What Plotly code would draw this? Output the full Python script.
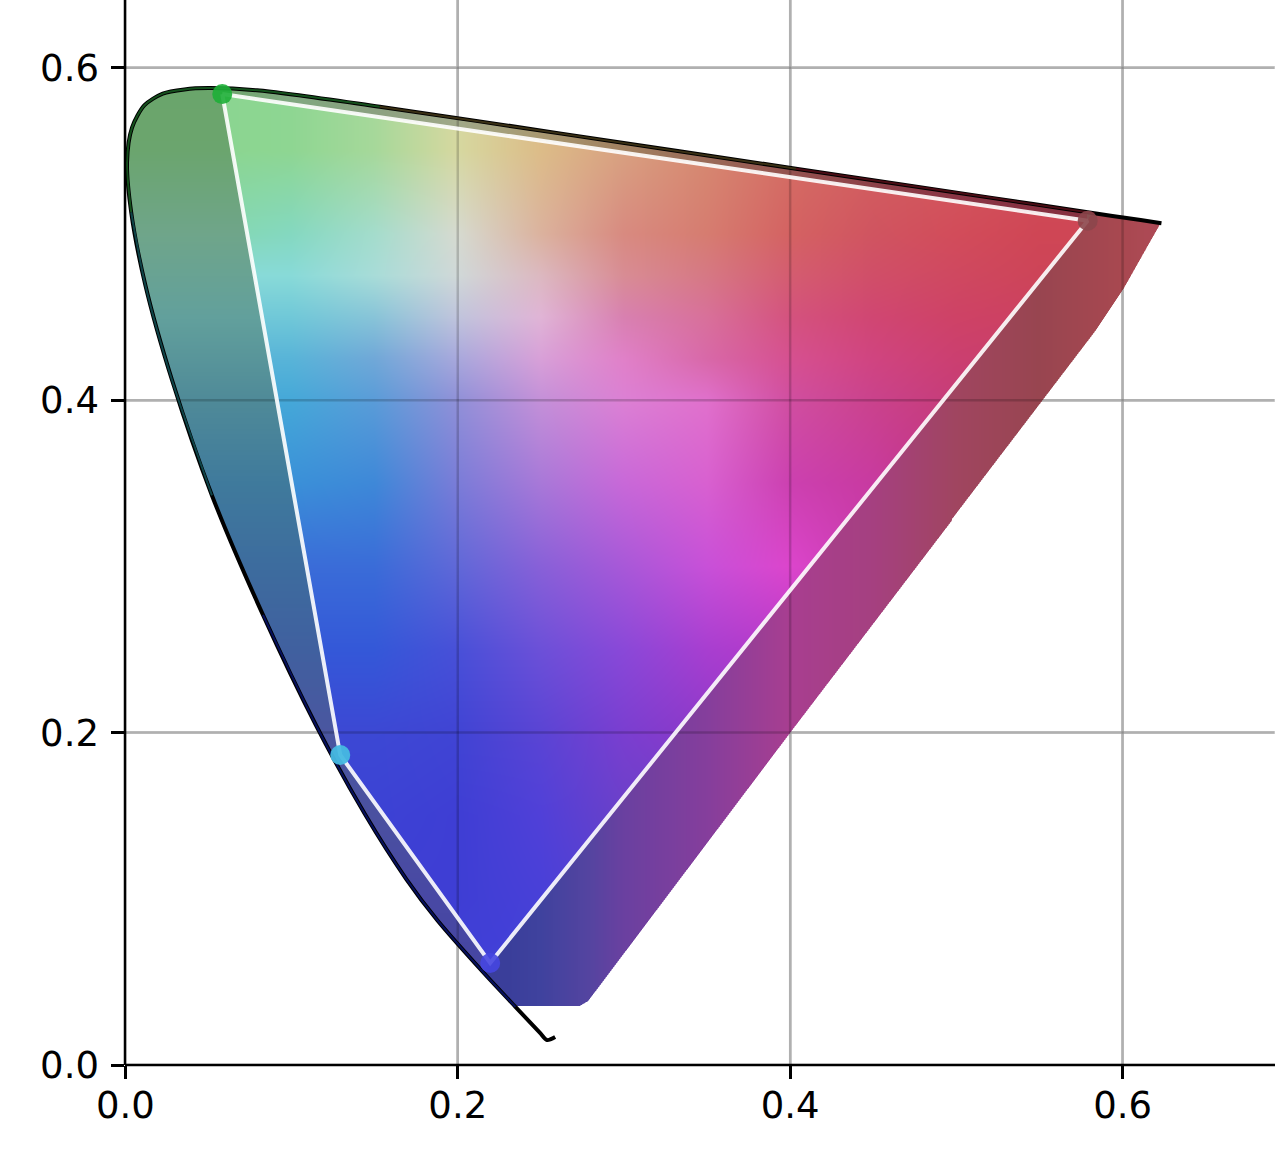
import numpy as np
import plotly.graph_objects as go

# spectral locus, read along the curve from the hook at the bottom up and round to the red end
locus_u = [0.2586, 0.2537, 0.2495, 0.2347, 0.2161, 0.1877, 0.1690, 0.1441, 0.1147, 0.0828, 0.0521, 0.0282,
           0.0119, 0.0035, 0.0010, 0.0040, 0.0115, 0.0225, 0.0355, 0.0500, 0.0792, 0.1531, 0.2623, 0.4035,
           0.5203, 0.5830, 0.6109, 0.6234]
locus_v = [0.0168, 0.0150, 0.0193, 0.0350, 0.0549, 0.0871, 0.1119, 0.1510, 0.2044, 0.2708, 0.3427, 0.4117,
           0.4698, 0.5131, 0.5432, 0.5640, 0.5775, 0.5845, 0.5870, 0.5878, 0.5865, 0.5766, 0.5604, 0.5393,
           0.5219, 0.5125, 0.5084, 0.5065]
# tint laid along the black locus where the colours show through it (start index, end index, colour)
locus_tints = [(3, 10, "#06105e"), (10, 14, "#0e4448"), (13, 22, "#14501c"), (21, 24, "#3a3014"), (23, 26, "#4a0c14")]

# lower right edge of the coloured area
edge_u = [0.6224, 0.6176, 0.6013, 0.5845, 0.3999, 0.2785, 0.2735, 0.2357]
edge_v = [0.5048, 0.4964, 0.4675, 0.4422, 0.1998, 0.0385, 0.0355, 0.0355]

# primaries: green, red, blue, cyan
prim_u = [0.0583, 0.5790, 0.2195, 0.1293]
prim_v = [0.5842, 0.5080, 0.0614, 0.1865]
prim_colors = ["rgba(30,175,55,0.9)", "rgba(140,70,75,0.9)", "rgba(70,70,225,0.9)", "rgba(70,185,225,0.95)"]

ticks_x = [0.0, 0.2, 0.4, 0.6]
ticks_y = [0.0, 0.2, 0.4, 0.6]
x_max = 0.6915
y_max = 0.6408

# colours inside the triangle
inner_u = [0.05, 0.10, 0.15, 0.20, 0.25, 0.30, 0.35, 0.40, 0.45, 0.50, 0.55, 0.60]
inner_v = [0.60, 0.55, 0.50, 0.475, 0.45, 0.425, 0.40, 0.35, 0.30, 0.25, 0.20, 0.15, 0.10, 0.05]
inner_hex = [
    "8ad590 8ed692 a6d89a d6d8a0 dcbc88 d8a080 d68870 d46e64 d2605e d25a5c d05058 d05058",
    "8ad590 8ed692 a6d89a d6d8a0 dcbc88 d8a080 d68870 d46e64 d2605e d25a5c d05058 d05058",
    "84d8b0 84d8c0 a4dccc d6dad0 dbb29e d88a80 d67c70 d46262 d05460 d24c5a cf4655 cf4655",
    "88dad8 88dad8 a8dcd8 d0d8d8 dcb8c0 d88c94 d67884 d45c70 d04e68 cf4860 cd4458 cd4458",
    "70c8d8 70c8d8 88c4d8 c0c4dc e0b4d6 d880b0 d8709a d4527e d04672 ce4266 cc4060 cc4060",
    "58b4d8 58b4d8 70a8d8 a8a8dc d8a0d8 e080c8 d868a8 d65090 d04480 cb3f70 c83d68 c83d68",
    "45a8d8 45a8d8 5a9cd8 9090d8 c490d8 dc80d4 e070cc d04ea0 ca428c c63c78 c43a70 c43a70",
    "3a90d8 3a90d8 3e88d8 7a7cd8 a878d8 c868d8 d860d0 cc40b0 c83aa0 c03080 c03080 c03080",
    "3a6cd8 3a6cd8 3a6cd8 6068d8 8860d8 a858d8 c850d8 dc45cc c83ab0 c03090 c03090 c03090",
    "3458d8 3458d8 3458d8 4850d8 6c50d8 8a48d8 a83ed0 b838c8 b838c8 b838c8 b838c8 b838c8",
    "3c48d4 3c48d4 3c48d4 4044d4 5a44d4 7a3ed0 8e38c8 9a38c8 9a38c8 9a38c8 9a38c8 9a38c8",
    "3c42d4 3c42d4 3c42d4 3e3ed4 5040d8 6a40c8 6a40c8 6a40c8 6a40c8 6a40c8 6a40c8 6a40c8",
    "3e3ed4 3e3ed4 3e3ed4 3e3ed4 4840d8 5a40d0 5a40d0 5a40d0 5a40d0 5a40d0 5a40d0 5a40d0",
    "4040d8 4040d8 4040d8 4040d8 4040d8 4a40d8 4a40d8 4a40d8 4a40d8 4a40d8 4a40d8 4a40d8",
]

# muted bands outside the triangle
left_v = [0.03, 0.10, 0.15, 0.20, 0.25, 0.30, 0.35, 0.40, 0.45, 0.50, 0.55, 0.60]
left_hex = ["4444a0", "4848a4", "4a50a0", "4a56a0", "40609f", "3d6c9e", "3f7a9c", "4f8a98", "62a09c", "6fa58a", "6ba56e", "6aa56a"]
top_u = [0.05, 0.10, 0.15, 0.20, 0.25, 0.30, 0.35, 0.40, 0.45, 0.50, 0.55, 0.60]
top_hex = ["6aa56a", "80a880", "8aa080", "a0a888", "a89870", "a08060", "9a6a58", "94524f", "8c4048", "8a3545", "863040", "863040"]
right_u = [0.23, 0.25, 0.28, 0.30, 0.35, 0.40, 0.45, 0.50, 0.55, 0.60, 0.63]
right_hex = ["3a3e9a", "3f429e", "5544a0", "6a40a0", "853e9c", "a83e90", "a54080", "a04560", "984550", "a84850", "b04a58"]


def hex_to_rgb(codes):
    return np.array([[int(c[i:i + 2], 16) for i in (0, 2, 4)] for c in codes], dtype=float)


def lookup(table_x, table_rgb, values):
    return np.stack([np.interp(values, table_x, table_rgb[:, k]) for k in range(3)], axis=-1)


def side(a, b, us, vs):
    # sign tells which side of the primary a -> b the points are on
    return (prim_u[b] - prim_u[a]) * (vs - prim_v[a]) - (prim_v[b] - prim_v[a]) * (us - prim_u[a])


def in_polygon(us, vs, poly_u, poly_v):
    inside = np.zeros(us.shape, dtype=bool)
    n = len(poly_u)
    for i in range(n):
        u1, v1, u2, v2 = poly_u[i], poly_v[i], poly_u[(i + 1) % n], poly_v[(i + 1) % n]
        if v1 == v2:
            continue
        crosses = (v1 > vs) != (v2 > vs)
        inside ^= crosses & (us < u1 + (vs - v1) * (u2 - u1) / (v2 - v1))
    return inside


def gamut_image(dx, dy):
    cols, rows = int(0.63 / dx), int(0.60 / dy)
    us = (np.arange(cols) + 0.5) * dx
    vs = (np.arange(rows) + 0.5) * dy
    grid_u, grid_v = np.meshgrid(us, vs)

    # inner colours, bilinear between the table cells
    table = np.array([hex_to_rgb(r.split()) for r in inner_hex])[::-1]
    asc_v = inner_v[::-1]
    across = np.stack([lookup(inner_u, table[i], us) for i in range(len(asc_v))], axis=1)
    inner = np.stack([np.stack([np.interp(vs, asc_v, across[j, :, k]) for j in range(cols)], axis=1)
                      for k in range(3)], axis=-1)

    rgb = lookup(left_v, hex_to_rgb(left_hex), grid_v)
    beyond_right = side(1, 2, grid_u, grid_v) > 0
    beyond_top = side(0, 1, grid_u, grid_v) > 0
    beyond_left = (side(2, 3, grid_u, grid_v) > 0) | (side(3, 0, grid_u, grid_v) > 0)
    in_triangle = ~(beyond_right | beyond_top | beyond_left)
    rgb[beyond_right] = lookup(right_u, hex_to_rgb(right_hex), grid_u[beyond_right])
    top_part = beyond_top & (grid_u > prim_u[0]) & (grid_u < prim_u[1])
    rgb[top_part] = lookup(top_u, hex_to_rgb(top_hex), grid_u[top_part])
    rgb[in_triangle] = inner[in_triangle]

    # coverage of the outline, two samples per pixel each way for a soft edge
    start = next(i for i, v in enumerate(locus_v) if v > 0.0355 and i > 2)
    poly_u = locus_u[start:] + edge_u
    poly_v = locus_v[start:] + edge_v
    fine_u, fine_v = np.meshgrid((np.arange(cols * 2) + 0.5) * dx / 2, (np.arange(rows * 2) + 0.5) * dy / 2)
    mask = in_polygon(fine_u, fine_v, poly_u, poly_v).astype(float)
    alpha = mask.reshape(rows, 2, cols, 2).mean(axis=(1, 3))

    return np.dstack([rgb, alpha * 255]).round().astype(np.uint8)


dx = 1 / 1663
dy = 1 / 1662
image = gamut_image(dx, dy)

fig = go.Figure()
fig.add_trace(go.Image(z=image, colormodel="rgba256", x0=dx / 2, y0=dy / 2, dx=dx, dy=dy, hoverinfo="skip"))

# the grid shows faintly through the colours, so a light stroke goes over the image as well
for t in ticks_x:
    fig.add_trace(go.Scatter(x=[t, t], y=[0, y_max], mode="lines", line=dict(color="rgba(0,0,0,0.18)", width=2.5)))
for t in ticks_y:
    fig.add_trace(go.Scatter(x=[0, x_max], y=[t, t], mode="lines", line=dict(color="rgba(0,0,0,0.18)", width=2.5)))

fig.add_trace(go.Scatter(x=locus_u, y=locus_v, mode="lines",
                         line=dict(color="black", width=4, shape="spline", smoothing=0.8)))
for first, last, color in locus_tints:
    fig.add_trace(go.Scatter(x=locus_u[first:last], y=locus_v[first:last], mode="lines",
                             line=dict(color=color, width=2, shape="spline", smoothing=0.8)))

tri_u = prim_u + prim_u[:1]
tri_v = prim_v + prim_v[:1]
fig.add_trace(go.Scatter(x=tri_u, y=tri_v, mode="lines", line=dict(color="rgba(255,255,255,0.9)", width=4)))
fig.add_trace(go.Scatter(x=prim_u, y=prim_v, mode="markers", marker=dict(color=prim_colors, size=20, line=dict(width=0))))

axis_style = dict(
    showgrid=True,
    gridcolor="#d7d7d7",
    gridwidth=2.5,
    zeroline=False,
    showline=False,
    ticks="outside",
    ticklen=13,
    tickwidth=2.5,
    tickcolor="black",
    tickformat=".1f",
    tickfont=dict(family="DejaVu Sans", size=37, color="black"),
)

fig.update_layout(
    width=1275,
    height=1163,
    margin=dict(l=125, r=0, t=0, b=98),
    paper_bgcolor="white",
    plot_bgcolor="white",
    showlegend=False,
    xaxis=dict(range=[0, x_max], tickvals=ticks_x, ticklabelstandoff=-5, **axis_style),
    yaxis=dict(range=[0, y_max], tickvals=ticks_y, ticklabelstandoff=5, **axis_style),
    # spines centred on the zero of each axis
    shapes=[
        dict(type="line", xref="paper", yref="paper", x0=0, x1=0, y0=0, y1=1, layer="above",
             line=dict(color="black", width=2.5)),
        dict(type="line", xref="paper", yref="paper", x0=0, x1=1, y0=0, y1=0, layer="above",
             line=dict(color="black", width=2.5)),
    ],
)

fig.write_html("out.html", config=dict(displayModeBar=False), post_script="document.body.style.margin='0';")
